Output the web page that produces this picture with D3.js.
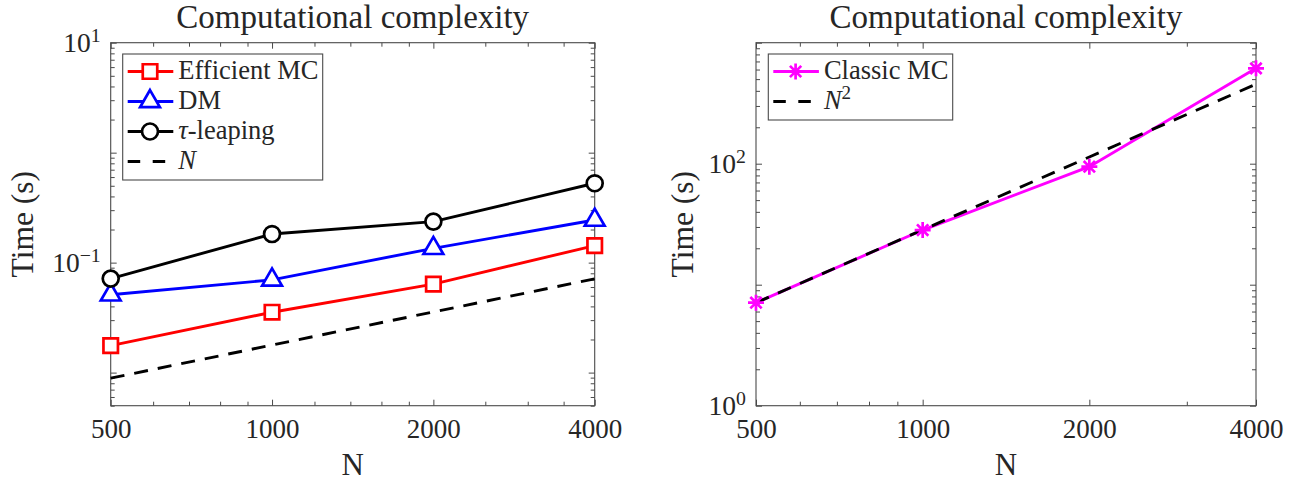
<!DOCTYPE html>
<html>
<head>
<meta charset="utf-8">
<script src="https://cdn.jsdelivr.net/npm/d3@7"></script>
<style>
  html, body { margin: 0; padding: 0; background: #fff; }
  svg { display: block; }
  text { font-family: "Liberation Serif", "Times New Roman", serif; fill: #262626; }
</style>
</head>
<body>
<svg id="fig" width="1296" height="481"></svg>
<script>
// ---- data -------------------------------------------------------------
const nValues      = [500, 1000, 2000, 4000];
const efficientMC  = [0.0176, 0.0354, 0.0637, 0.143];
const dmTimes      = [0.051, 0.0697, 0.135, 0.244];
const tauLeaping   = [0.0716, 0.182, 0.236, 0.527];
const linearRef    = [0.0089, 0.0178, 0.0356, 0.0712];
const classicMC    = [7.1, 28.3, 94.5, 614];
const quadraticRef = [7.1, 28.4, 113.6, 454.4];

// ---- ticks ------------------------------------------------------------
const xMajorTicks      = [500, 1000, 2000, 4000];
const xMinorTicksLeft  = [600, 700, 800, 900, 1200, 1400, 1600, 1800, 2500, 3000, 3500];
const xMinorTicksRight = [600, 700, 800, 900, 3000];
const yMajorLeft   = [0.01, 0.1, 1, 10];
const yLabeledLeft = [0.1, 10];
const yMajorRight   = [1, 10, 100, 1000];
const yLabeledRight = [1, 100];
const yDomainLeft  = [0.005, 10];
const yDomainRight = [1, 1000];

const titleText = "Computational complexity";

// ---- drawing ----------------------------------------------------------
const svg = d3.select("#fig");
const AXIS_COLOR = "#4a4a4a";
const SERIF = '"Liberation Serif", "Times New Roman", serif';
const LINE_W = 2.9;
const DASH = "14,10";

function markerPath(kind) {
  if (kind === "square")   return d3.symbol(d3.symbolSquare, 210)();
  if (kind === "triangle") return d3.symbol(d3.symbolTriangle, 170)();
  if (kind === "circle")   return d3.symbol(d3.symbolCircle, 200)();
  if (kind === "asterisk") {
    const r = 8, a = r * Math.SQRT1_2;
    return `M${-r},0H${r}M0,${-r}V${r}M${-a},${-a}L${a},${a}M${-a},${a}L${a},${-a}`;
  }
  return null;
}

function drawMarker(g, kind, color, x, y) {
  const p = markerPath(kind);
  if (!p) return;
  g.append("path")
    .attr("d", p)
    .attr("transform", `translate(${x},${y})`)
    .attr("fill", kind === "asterisk" ? "none" : "#fff")
    .attr("stroke", color)
    .attr("stroke-width", 2.7)
    .attr("stroke-linejoin", "miter");
}

function writeLabel(textSel, parts) {
  textSel.text(null);
  parts.forEach(p => {
    const ts = textSel.append("tspan").text(p.t);
    if (p.italic) ts.attr("font-style", "italic");
    if (p.sup) ts.attr("font-size", "0.72em").attr("dy", "-0.5em");
  });
}

function panel(cfg) {
  const { x0, x1, y0, y1 } = cfg;
  const x = d3.scaleLog().domain([nValues[0], nValues[nValues.length - 1]]).range([x0, x1]);
  const y = d3.scaleLog().domain(cfg.yDomain).range([y1, y0]);
  const g = svg.append("g");

  const strip = sel => sel.call(s => s.select(".domain").remove())
    .call(s => s.selectAll(".tick line").attr("stroke", AXIS_COLOR).attr("stroke-width", 1));

  // bottom axis with labels
  const bottom = g.append("g").attr("transform", `translate(0,${y1})`)
    .call(d3.axisBottom(x).tickValues(xMajorTicks).tickSize(-6).tickPadding(13).tickFormat(d3.format("d")))
    .call(strip);
  bottom.selectAll("text").attr("font-size", 27).attr("font-family", SERIF).attr("fill", "#262626");
  g.append("g").attr("transform", `translate(0,${y1})`)
    .call(d3.axisBottom(x).tickValues(cfg.xMinor).tickSize(-4).tickFormat(""))
    .call(strip);
  // top mirror
  g.append("g").attr("transform", `translate(0,${y0})`)
    .call(d3.axisTop(x).tickValues(xMajorTicks).tickSize(-6).tickFormat(""))
    .call(strip);
  g.append("g").attr("transform", `translate(0,${y0})`)
    .call(d3.axisTop(x).tickValues(cfg.xMinor).tickSize(-4).tickFormat(""))
    .call(strip);

  // left axis: every decade gets a tick, only some are labelled
  const isDecade = v => Math.abs(Math.log10(v) - Math.round(Math.log10(v))) < 1e-9;
  const yMinor = y.ticks().filter(v => !isDecade(v));
  const left = g.append("g").attr("transform", `translate(${x0},0)`)
    .call(d3.axisLeft(y).tickValues(cfg.yMajor).tickSize(-6).tickPadding(10).tickFormat(""))
    .call(strip);
  left.selectAll(".tick text").each(function(d) {
    const t = d3.select(this);
    if (!cfg.yLabeled.some(v => Math.abs(v - d) < 1e-12)) { t.remove(); return; }
    const e = Math.round(Math.log10(d));
    t.attr("font-size", 27.5).attr("font-family", SERIF).attr("fill", "#262626");
    writeLabel(t, [{ t: "10" }, { t: e < 0 ? "\u2212" + (-e) : String(e), sup: true }]);
  });
  g.append("g").attr("transform", `translate(${x0},0)`)
    .call(d3.axisLeft(y).tickValues(yMinor).tickSize(-4).tickFormat(""))
    .call(strip);
  // right mirror
  g.append("g").attr("transform", `translate(${x1},0)`)
    .call(d3.axisRight(y).tickValues(cfg.yMajor).tickSize(-6).tickFormat(""))
    .call(strip);
  g.append("g").attr("transform", `translate(${x1},0)`)
    .call(d3.axisRight(y).tickValues(yMinor).tickSize(-4).tickFormat(""))
    .call(strip);

  // box
  g.append("rect").attr("x", x0).attr("y", y0).attr("width", x1 - x0).attr("height", y1 - y0)
    .attr("fill", "none").attr("stroke", AXIS_COLOR).attr("stroke-width", 1.1);

  // series
  const line = d3.line().x((d, i) => x(nValues[i])).y(d => y(d));
  cfg.series.forEach(s => {
    g.append("path").datum(s.values)
      .attr("d", line)
      .attr("fill", "none")
      .attr("stroke", s.color)
      .attr("stroke-width", LINE_W)
      .attr("stroke-dasharray", s.dash ? DASH : null);
  });
  cfg.series.forEach(s => {
    if (!s.marker) return;
    s.values.forEach((v, i) => drawMarker(g, s.marker, s.color, x(nValues[i]), y(v)));
  });

  // title and axis labels
  g.append("text").attr("x", (x0 + x1) / 2).attr("y", 28)
    .attr("text-anchor", "middle").attr("font-size", 33).attr("fill", "#000")
    .text(titleText);
  g.append("text").attr("transform", `translate(${cfg.ylabelX},${(y0 + y1) / 2}) rotate(-90)`)
    .attr("text-anchor", "middle").attr("font-size", 31.5)
    .text("Time (s)");
  g.append("text").attr("x", (x0 + x1) / 2).attr("y", 475)
    .attr("text-anchor", "middle").attr("font-size", 31)
    .text("N");

  // legend
  const lg = g.append("g").attr("transform", `translate(${x0 + cfg.legendDx},${y0 + 11.3})`);
  const rowH = 30, top = 17.5, bottomPad = 18.5;
  lg.append("rect").attr("x", 0).attr("y", 0)
    .attr("width", cfg.legendW).attr("height", top + rowH * (cfg.series.length - 1) + bottomPad)
    .attr("fill", "#fff").attr("stroke", AXIS_COLOR).attr("stroke-width", 1.1);
  cfg.series.forEach((s, i) => {
    const cy = top + i * rowH;
    lg.append("line").attr("x1", 5).attr("x2", 50.6).attr("y1", cy).attr("y2", cy)
      .attr("stroke", s.color).attr("stroke-width", LINE_W)
      .attr("stroke-dasharray", s.dash ? "12.5,12.5" : null);
    drawMarker(lg, s.marker, s.color, 27.3, cy);
    const t = lg.append("text").attr("x", 55.6).attr("y", cy + 7.5).attr("font-size", 26.5);
    writeLabel(t, s.label);
  });
}

panel({
  x0: 110.7, x1: 594.7, y0: 42.7, y1: 405.7,
  yDomain: yDomainLeft, yMajor: yMajorLeft, yLabeled: yLabeledLeft,
  xMinor: xMinorTicksLeft, ylabelX: 33, legendDx: 12, legendW: 200,
  series: [
    { values: efficientMC, color: "#ff0000", marker: "square",   label: [{ t: "Efficient MC" }] },
    { values: dmTimes,     color: "#0000ff", marker: "triangle", label: [{ t: "DM" }] },
    { values: tauLeaping,  color: "#000000", marker: "circle",   label: [{ t: "\u03c4", italic: true }, { t: "-leaping" }] },
    { values: linearRef,   color: "#000000", dash: true,         label: [{ t: "N", italic: true }] }
  ]
});

panel({
  x0: 756, x1: 1256, y0: 42.7, y1: 405.7,
  yDomain: yDomainRight, yMajor: yMajorRight, yLabeled: yLabeledRight,
  xMinor: xMinorTicksRight, ylabelX: 693, legendDx: 12.3, legendW: 184.4,
  series: [
    { values: classicMC,    color: "#ff00ff", marker: "asterisk", label: [{ t: "Classic MC" }] },
    { values: quadraticRef, color: "#000000", dash: true,         label: [{ t: "N", italic: true }, { t: "2", sup: true }] }
  ]
});
</script>
</body>
</html>
